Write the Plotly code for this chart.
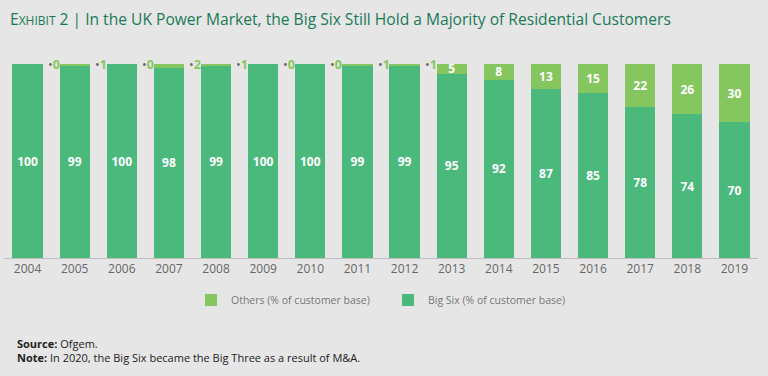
import plotly.graph_objects as go

years = [2004, 2005, 2006, 2007, 2008, 2009, 2010, 2011, 2012, 2013, 2014, 2015, 2016, 2017, 2018, 2019]
big_six = [100, 99, 100, 98, 99, 100, 100, 99, 99, 95, 92, 87, 85, 78, 74, 70]
others = [0, 1, 0, 2, 1, 0, 0, 1, 1, 5, 8, 13, 15, 22, 26, 30]

BIG = "#4bb87c"
OTH = "#86c65e"
BG = "#e6e6e6"
FONT = "Open Sans"

W, H = 768, 376
L, R, T, B = 4, 10, 64, 118

fig = go.Figure()
fig.add_bar(
    x=years, y=big_six, name="Big Six (% of customer base)",
    marker=dict(color=BIG, line=dict(width=0)),
    text=[str(v) for v in big_six], textposition="inside", insidetextanchor="middle", textangle=0,
    textfont=dict(color="white", size=12, family=FONT, weight="bold"),
    width=0.64,
)
fig.add_bar(
    x=years, y=others, name="Others (% of customer base)",
    marker=dict(color=OTH, line=dict(width=0)),
    text=[str(v) if v >= 5 else "" for v in others], textposition="inside", insidetextanchor="middle", textangle=0,
    textfont=dict(color="white", size=12, family=FONT, weight="bold"),
    width=0.64,
)

plot_h = H - T - B
def py(p):
    return (H - B - p) / plot_h
def px_(x):
    return (x - L) / (W - L - R)

annotations = []
for yr, b, o in zip(years, big_six, others):
    if o < 5:
        annotations.append(dict(
            x=yr + 0.32, y=b + o, xref="x", yref="y",
            text="<span style='color:#666666'>•</span><b>%d</b>" % o, showarrow=False,
            xshift=3, font=dict(color=OTH, size=12.5, family=FONT), xanchor="left", yanchor="middle",
        ))

annotations.append(dict(
    x=px_(8), y=py(19), xref="paper", yref="paper", xanchor="left", yanchor="middle",
    text="E<span style='font-size:12px'>XHIBIT</span> 2 | In the UK Power Market, the Big Six Still Hold a Majority of Residential Customers",
    showarrow=False, font=dict(color="#197a56", size=15.6, family=FONT),
))
annotations.append(dict(x=px_(15), y=py(343), xref="paper", yref="paper", xanchor="left", yanchor="middle",
                   text="<b>Source:</b> Ofgem.", showarrow=False,
                   font=dict(color="#222222", size=11, family=FONT)))
annotations.append(dict(x=px_(15), y=py(357), xref="paper", yref="paper", xanchor="left", yanchor="middle",
                   text="<b>Note:</b> In 2020, the Big Six became the Big Three as a result of M&A.", showarrow=False,
                   font=dict(color="#222222", size=11, family=FONT)))

fig.update_layout(
    width=W, height=H,
    margin=dict(l=L, r=R, t=T, b=B),
    paper_bgcolor=BG, plot_bgcolor=BG,
    barmode="stack",
    showlegend=True,
    uniformtext=dict(minsize=12, mode="show"),
    legend=dict(orientation="h", x=px_(388), xanchor="center", y=py(300), yanchor="middle",
                traceorder="reversed", font=dict(color="#777777", size=10.5, family=FONT),
                bgcolor="rgba(0,0,0,0)", itemwidth=30, entrywidth=152),
    xaxis=dict(range=[2003.5, 2019.5], tickvals=years, ticktext=[str(y) for y in years],
               showgrid=False, zeroline=False, showline=True, linecolor="#bdbdbd", linewidth=1,
               ticks="", tickfont=dict(color="#666666", size=12, family=FONT), fixedrange=True),
    yaxis=dict(range=[0, 100], visible=False, fixedrange=True),
    annotations=annotations,
)

fig.write_html("out.html", post_script="document.body.style.margin='0';", config={"displayModeBar": False})
